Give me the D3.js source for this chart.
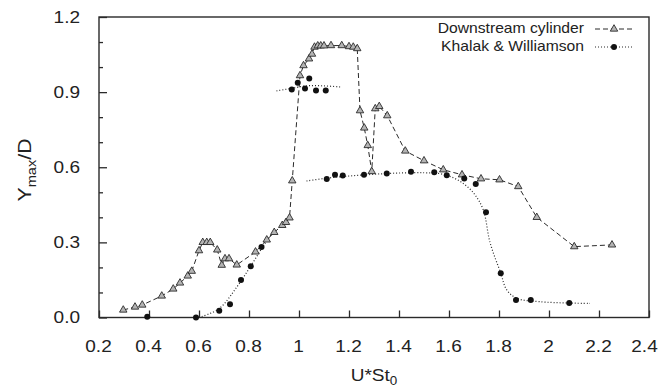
<!DOCTYPE html>
<html>
<head>
<meta charset="utf-8">
<script src="https://cdn.jsdelivr.net/npm/d3@7"></script>
<style>
  body { margin: 0; background: #fff; }
  svg { font-family: "Liberation Sans", Arial, sans-serif; }
</style>
</head>
<body>
<svg id="chart" width="660" height="391"></svg>
<script>
// Downstream cylinder response, [U*St0, Ymax/D]
const cylinder = [
  [0.297, 0.03], [0.344, 0.042], [0.373, 0.05], [0.451, 0.086], [0.497, 0.114],
  [0.524, 0.138], [0.555, 0.166], [0.571, 0.185], [0.6, 0.267], [0.615, 0.3],
  [0.631, 0.3], [0.645, 0.3], [0.673, 0.27], [0.691, 0.209], [0.704, 0.235],
  [0.72, 0.235], [0.751, 0.21], [0.826, 0.262], [0.871, 0.31], [0.901, 0.34],
  [0.933, 0.368], [0.948, 0.38], [0.962, 0.398], [0.973, 0.546], [1.004, 0.966],
  [1.018, 1.006], [1.04, 1.033], [1.052, 1.052], [1.062, 1.08], [1.075, 1.085],
  [1.087, 1.085], [1.1, 1.085], [1.128, 1.086], [1.171, 1.086], [1.2, 1.082],
  [1.217, 1.08], [1.233, 1.074], [1.244, 0.826], [1.261, 0.757], [1.275, 0.687],
  [1.291, 0.583], [1.305, 0.834], [1.321, 0.843], [1.353, 0.806], [1.425, 0.665],
  [1.5, 0.626], [1.577, 0.59], [1.652, 0.57], [1.728, 0.554], [1.802, 0.55],
  [1.877, 0.523], [1.951, 0.4], [2.101, 0.283], [2.252, 0.29]
];

// Khalak & Williamson measurements
const khalak = [
  [0.393, 0.003], [0.588, 0.0], [0.681, 0.027], [0.724, 0.053], [0.768, 0.15],
  [0.807, 0.205], [0.85, 0.282], [0.971, 0.91], [0.995, 0.937], [1.024, 0.914],
  [1.041, 0.954], [1.068, 0.906], [1.107, 0.906], [1.111, 0.553], [1.144, 0.57],
  [1.175, 0.567], [1.26, 0.57], [1.351, 0.575], [1.448, 0.582], [1.541, 0.58],
  [1.591, 0.568], [1.661, 0.555], [1.707, 0.533], [1.748, 0.42], [1.807, 0.177],
  [1.868, 0.07], [1.927, 0.07], [2.081, 0.058]
];

// dotted fit curves through the Khalak & Williamson branches
const fitInitial = [[0.6, 0.0], [0.68, 0.035], [0.75, 0.12], [0.81, 0.21], [0.86, 0.29], [0.9, 0.345]];
const fitUpper = [[0.91, 0.905], [0.97, 0.915], [1.03, 0.925], [1.1, 0.925], [1.17, 0.92]];
const fitLower = [
  [1.03, 0.545], [1.1, 0.555], [1.2, 0.565], [1.3, 0.572], [1.4, 0.577], [1.5, 0.578],
  [1.56, 0.575], [1.6, 0.565], [1.65, 0.54], [1.7, 0.495], [1.737, 0.43], [1.764, 0.3],
  [1.807, 0.177], [1.831, 0.11], [1.871, 0.077], [1.964, 0.063], [2.164, 0.056]
];

const xTicks = [0.2, 0.4, 0.6, 0.8, 1, 1.2, 1.4, 1.6, 1.8, 2, 2.2, 2.4];
const xTickLabels = ["0.2", "0.4", "0.6", "0.8", "1", "1.2", "1.4", "1.6", "1.8", "2", "2.2", "2.4"];
const yTicks = [0, 0.3, 0.6, 0.9, 1.2];
const yTickLabels = ["0.0", "0.3", "0.6", "0.9", "1.2"];
const yMinorTicks = [0.1, 0.2, 0.4, 0.5, 0.7, 0.8, 1.0, 1.1];

const legendLabels = ["Downstream cylinder", "Khalak & Williamson"];

const ink = "#2a2a2a";
const sx = 1.12; // the source text is a little wide

const svg = d3.select("#chart");

const x = d3.scaleLinear().domain([0.2, 2.4]).range([99, 649]);
const y = d3.scaleLinear().domain([0, 1.2]).range([317.5, 17]);

// frame
svg.append("rect")
  .attr("x", x(0.2)).attr("y", y(1.2))
  .attr("width", x(2.4) - x(0.2)).attr("height", y(0) - y(1.2))
  .attr("fill", "none").attr("stroke", ink).attr("stroke-width", 1.4);

function styleAxis(g) {
  g.select(".domain").remove();
  g.attr("font-family", null).attr("font-size", null);
  g.selectAll("line").attr("stroke", ink).attr("stroke-width", 1.3);
  g.selectAll("text").attr("fill", "#222").style("font-size", "17px");
}

svg.append("g")
  .attr("transform", `translate(0,${y(0)})`)
  .call(d3.axisBottom(x).tickValues(xTicks).tickSize(-7).tickFormat((d, i) => xTickLabels[i]))
  .call(styleAxis)
  .call((g) => g.selectAll("text")
    .attr("y", 35).attr("dy", null)
    .attr("x", (d) => (d == 2.4 ? -5 : -1) / sx)
    .attr("transform", `scale(${sx},1)`));

svg.append("g")
  .attr("transform", `translate(${x(0.2)},0)`)
  .call(d3.axisLeft(y).tickValues(yMinorTicks).tickSize(-4).tickFormat(""))
  .call(styleAxis);

svg.append("g")
  .attr("transform", `translate(${x(0.2)},0)`)
  .call(d3.axisLeft(y).tickValues(yTicks).tickSize(-8).tickFormat((d, i) => yTickLabels[i]))
  .call(styleAxis)
  .call((g) => g.selectAll("text").attr("x", -19 / sx).attr("transform", `scale(${sx},1)`));

// axis titles
const xt = svg.append("text")
  .attr("transform", `translate(374,381) scale(${sx},1)`)
  .attr("text-anchor", "middle").attr("fill", "#222").style("font-size", "17px");
xt.append("tspan").text("U*St");
xt.append("tspan").attr("dy", 4).style("font-size", "12px").text("0");

const yt = svg.append("text")
  .attr("transform", "translate(31,170) rotate(-90) scale(1.12,1)")
  .attr("text-anchor", "middle").attr("fill", "#222").style("font-size", "19px");
yt.append("tspan").text("Y");
yt.append("tspan").attr("dy", 5).style("font-size", "13px").text("max");
yt.append("tspan").attr("dy", -5).text("/D");

// lines
const line = d3.line().x((d) => x(d[0])).y((d) => y(d[1]));
const smooth = d3.line().x((d) => x(d[0])).y((d) => y(d[1])).curve(d3.curveCatmullRom);

svg.append("path").datum(cylinder).attr("d", line)
  .attr("fill", "none").attr("stroke", ink).attr("stroke-width", 1).attr("stroke-dasharray", "5,3");

[fitInitial, fitUpper, fitLower].forEach((fit) => {
  svg.append("path").datum(fit).attr("d", smooth)
    .attr("fill", "none").attr("stroke", ink).attr("stroke-width", 1.2).attr("stroke-dasharray", "1,2");
});

// markers
const tri = d3.symbol(d3.symbolTriangle, 24);
svg.append("g").selectAll("path").data(cylinder).join("path")
  .attr("d", tri)
  .attr("transform", (d) => `translate(${x(d[0])},${y(d[1])})`)
  .attr("fill", "#b4b4b4").attr("stroke", ink).attr("stroke-width", 0.9);

svg.append("g").selectAll("circle").data(khalak).join("circle")
  .attr("cx", (d) => x(d[0])).attr("cy", (d) => y(d[1])).attr("r", 3)
  .attr("fill", "#111");

// legend
const legend = svg.append("g");
legendLabels.forEach((label, i) => {
  const ly = 29 + i * 18;
  legend.append("text")
    .attr("transform", `translate(584,${ly + 4}) scale(1.12,1)`)
    .attr("text-anchor", "end").attr("fill", "#222").style("font-size", "14px")
    .text(label);
  legend.append("line")
    .attr("x1", 595).attr("x2", 633).attr("y1", ly).attr("y2", ly)
    .attr("stroke", ink)
    .attr("stroke-width", i ? 1.2 : 1)
    .attr("stroke-dasharray", i ? "1,2" : "5,3");
  if (i == 0) {
    legend.append("path").attr("d", tri).attr("transform", `translate(614,${ly})`)
      .attr("fill", "#b4b4b4").attr("stroke", ink).attr("stroke-width", 0.9);
  } else {
    legend.append("circle").attr("cx", 614).attr("cy", ly).attr("r", 3).attr("fill", "#111");
  }
});
</script>
</body>
</html>
